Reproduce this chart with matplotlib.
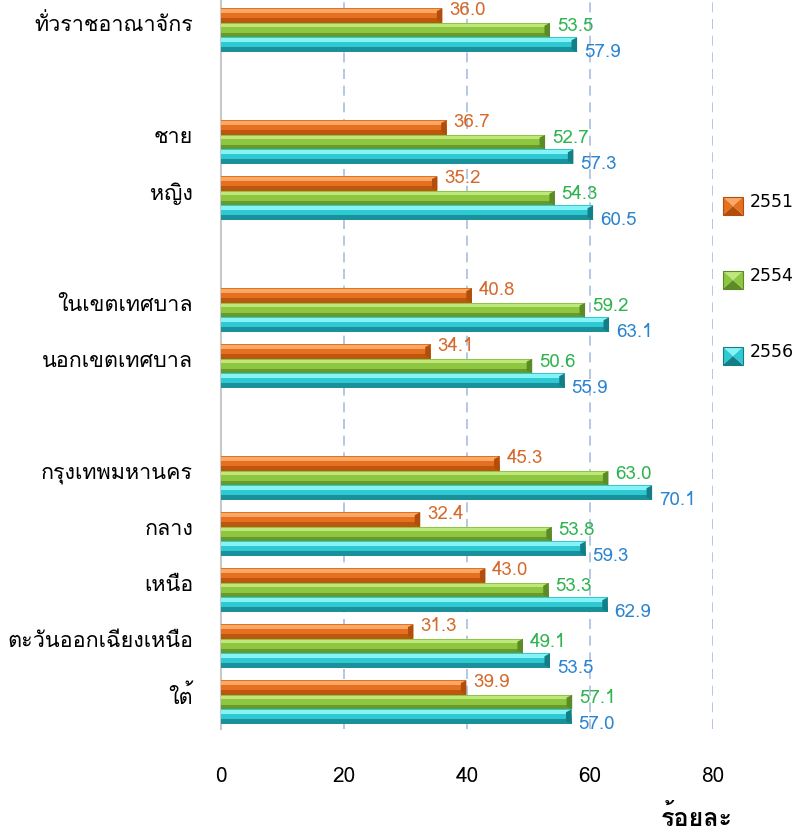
import matplotlib
matplotlib.use("Agg")
import matplotlib.pyplot as plt
from matplotlib.patches import Polygon
from matplotlib.transforms import ScaledTranslation

plt.rcParams["font.family"] = ["Loma", "DejaVu Sans"]

categories = ["ทั่วราชอาณาจักร", "ชาย", "หญิง", "ในเขตเทศบาล", "นอกเขตเทศบาล",
              "กรุงเทพมหานคร", "กลาง", "เหนือ", "ตะวันออกเฉียงเหนือ", "ใต้"]
slots = [0, 2, 3, 5, 6, 8, 9, 10, 11, 12]
years = ["2551", "2554", "2556"]
v2551 = [36.0, 36.7, 35.2, 40.8, 34.1, 45.3, 32.4, 43.0, 31.3, 39.9]
v2554 = [53.5, 52.7, 54.3, 59.2, 50.6, 63.0, 53.8, 53.3, 49.1, 57.1]
v2556 = [57.9, 57.3, 60.5, 63.1, 55.9, 70.1, 59.3, 62.9, 53.5, 57.0]
xticks = [0, 20, 40, 60, 80]

# main, light, dark, label colour
styles = [("#E5701F", "#F9A868", "#B24E0C", "#D4692A"),
          ("#8DC641", "#BEE87C", "#5C8A24", "#2EB34E"),
          ("#2FC9D3", "#86F3F6", "#147E87", "#2B84CF")]

fig = plt.figure(figsize=(8.02, 8.34), dpi=100)
ax = fig.add_axes([221 / 802, 1 - 729 / 834, (713 - 221) / 802, 728 / 834])

h = 0.26
offs = [-0.24, 0.02, 0.28]
label_dy = [-0.1, -0.07, 0.13]
for vals, (c, cl, cd, ct), off, dy in zip([v2551, v2554, v2556], styles, offs, label_dy):
    ys = [s + off for s in slots]
    ax.barh(ys, vals, height=h, color=c, edgecolor="none", zorder=3)
    ax.barh([y - h * 0.32 for y in ys], vals, height=h * 0.22, color=cl, edgecolor="none", zorder=4)
    ax.barh([y + h * 0.34 for y in ys], vals, height=h * 0.32, color=cd, edgecolor="none", zorder=4, alpha=0.75)
    for y, v in zip(ys, vals):
        # bevelled end of the bar
        ax.add_patch(Polygon([[v - 0.9, y - h / 2 + 0.05], [v, y - h / 2], [v, y + h / 2], [v - 0.9, y + h / 2 - 0.05]],
                             closed=True, facecolor=cd, edgecolor="none", zorder=5))
        ax.text(v + 1.1, y + dy, f"{v:.1f}", color=ct, fontsize=13.5, va="center", ha="left", zorder=6)

ax.set_xlim(0, 80)
ax.set_ylim(12.5, -0.5)
ax.set_xticks(xticks)
ax.set_xticklabels([str(t) for t in xticks], fontsize=15)
ax.tick_params(axis="x", length=0, pad=27)
ax.set_yticks(slots)
ax.set_yticklabels(categories, fontsize=15.5)
ax.tick_params(axis="y", length=0, pad=20)
up = ScaledTranslation(0, 6 / 100, fig.dpi_scale_trans)
for lab in ax.get_yticklabels():
    lab.set_transform(lab.get_transform() + up)
ax.grid(axis="x", color="#A9BEE0", linestyle=(0, (6, 4)), lw=1.2, zorder=0)
for sp in ["top", "right", "bottom"]:
    ax.spines[sp].set_visible(False)
ax.spines["left"].set_color("#C8C8C8")
ax.spines["left"].set_linewidth(1.5)

fig.text(697 / 802, 1 - 818 / 834, "ร้อยละ", fontsize=18, fontweight="bold", ha="center", va="center")

# legend with bevelled squares
W, H = fig.get_size_inches() * fig.dpi
for yr, (c, cl, cd, ct), cy in zip(years, styles, [206, 280, 356]):
    x0, x1 = 723 / W, 743 / W
    y0, y1 = 1 - (cy + 9) / H, 1 - (cy - 9) / H
    xm, ym = (x0 + x1) / 2, (y0 + y1) / 2
    for pts, col in [([(x0, y1), (x1, y1), (xm, ym)], cl),
                     ([(x0, y0), (x0, y1), (xm, ym)], c),
                     ([(x0, y0), (x1, y0), (xm, ym)], cd),
                     ([(x1, y0), (x1, y1), (xm, ym)], c)]:
        fig.patches.append(Polygon(pts, closed=True, transform=fig.transFigure,
                                   facecolor=col, edgecolor="none"))
    fig.patches.append(plt.Rectangle((x0, y0), x1 - x0, y1 - y0, transform=fig.transFigure,
                                     facecolor="none", edgecolor=cd, lw=0.8))
    fig.text(750 / W, 1 - (cy - 4) / H, yr, fontsize=12.5, ha="left", va="center", family="DejaVu Sans")

fig.savefig("out.png", dpi=100)
